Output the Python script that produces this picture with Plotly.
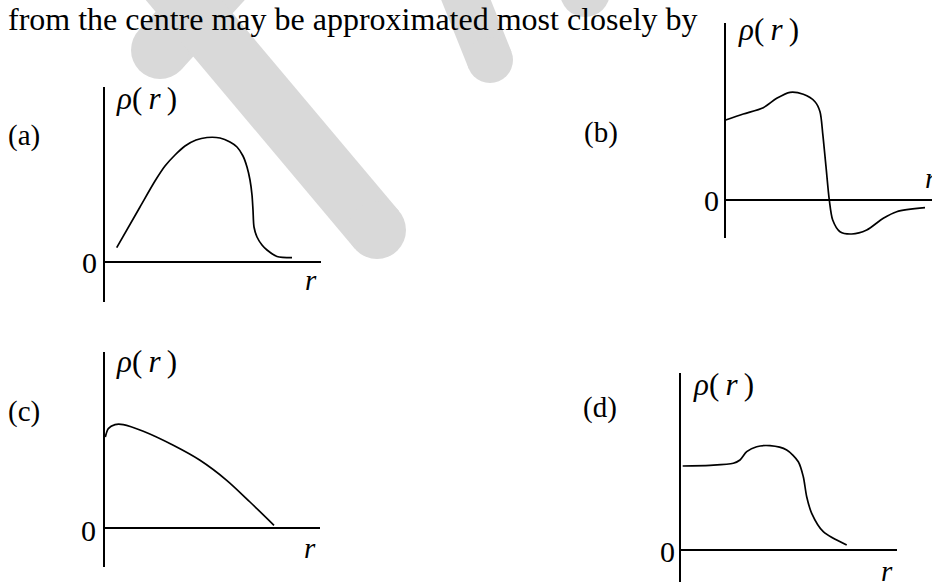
import plotly.graph_objects as go

W, H = 932, 582
FONT = "Liberation Serif, Times New Roman, serif"

# ---- density profiles rho(r), one sketch per option (arbitrary units) ----
a_r = [11.7, 35, 50, 60, 70, 80, 91, 102, 115, 125, 132, 138, 142, 145, 147, 148, 149, 152, 157, 162, 172, 187]
a_rho = [14.3, 55, 81, 96, 107, 116, 122, 124.5, 124, 120, 115, 106, 95, 82, 67, 52, 35, 25, 17, 12, 5.5, 4.3]

b_r = [0.2, 17.8, 37.8, 51.2, 64.5, 77.8, 89.5, 94.5, 97.2, 100.5, 103.8, 107.2, 114.5, 126.2, 141.2, 157.8, 171.2, 199.5]
b_rho = [80, 86, 92.3, 101.7, 107.7, 105.7, 98.3, 88.3, 66.7, 33.3, 0, -20, -31.7, -34, -30, -18.3, -11.7, -7.7]

c_r = [0.3, 3.3, 10, 18.3, 38.3, 68.3, 95, 121.7, 145, 169]
c_rho = [91, 99.4, 103.4, 103.4, 96.7, 82.7, 67.7, 47.7, 26, 2.7]

d_r = [1.7, 29, 52.3, 59, 65.7, 75.7, 89, 105.7, 117.3, 122.3, 125.7, 130.7, 142.3, 165.7]
d_rho = [84, 84.7, 86.7, 90, 98.3, 103.3, 104.3, 100, 88.3, 73.3, 53.3, 36.7, 18.3, 5]

option_labels = ["(a)", "(b)", "(c)", "(d)"]
question_text = "from the centre may be approximated most closely by"
rho_label = "<i>ρ</i>(\u2009<i>r</i>\u2009)"
r_label = "<i>r</i>"
zero_label = "0"

# ---- page layout (pixels) ----
# origin of each small plot, vertical-axis top/bottom, right end of horizontal axis
panels = [
    dict(ox=105, oy=262, top=87, bottom=302, right=321, r=a_r, rho=a_rho,
         tag=(24, 135), zero=(89, 262), rlab=(311, 280), rholab=(146, 98)),
    dict(ox=725.5, oy=200, top=23, bottom=238, right=932, r=b_r, rho=b_rho,
         tag=(601, 133), zero=(711, 200), rlab=(931, 178), rholab=(768, 29)),
    dict(ox=105, oy=528, top=352, bottom=567, right=320, r=c_r, rho=c_rho,
         tag=(24, 411), zero=(88, 530), rlab=(310, 548), rholab=(146, 361)),
    dict(ox=681, oy=550, top=373, bottom=582, right=897, r=d_r, rho=d_rho,
         tag=(600, 407), zero=(667, 551), rlab=(887, 571), rholab=(723, 384)),
]

# light grey brush strokes in the background: (x0, y0, x1, y1, width)
strokes = [
    (160, 50, 262, -62, 58),
    (150, -40, 377, 230, 58),
    (450, -40, 490, 60, 46),
    (585, -8, 560, -80, 50),
]
STROKE_COLOR = "#d9d9d9"


def fx(x):
    return x / W


def fy(y):
    return 1 - y / H


fig = go.Figure()

# background strokes on a full-page axis pair
for x0, y0, x1, y1, w in strokes:
    fig.add_trace(go.Scatter(
        x=[x0, x1], y=[y0, y1], mode="lines+markers",
        line=dict(color=STROKE_COLOR, width=w),
        marker=dict(color=STROKE_COLOR, size=w, line=dict(width=0)),
        xaxis="x", yaxis="y", hoverinfo="skip", showlegend=False,
    ))

layout = dict(
    width=W, height=H,
    margin=dict(l=0, r=0, t=0, b=0),
    paper_bgcolor="white", plot_bgcolor="rgba(0,0,0,0)",
    showlegend=False,
    xaxis=dict(domain=[0, 1], range=[0, W], visible=False, fixedrange=True),
    yaxis=dict(domain=[0, 1], range=[H, 0], visible=False, fixedrange=True),
)

annotations = [
    dict(text=question_text, x=fx(7), y=1, xanchor="left", yanchor="top",
         borderpad=0, font=dict(size=32)),
]

for i, p in enumerate(panels, start=2):
    xa, ya = f"xaxis{i}", f"yaxis{i}"
    layout[xa] = dict(
        domain=[fx(p["ox"]), min(1, fx(p["right"]))],
        range=[0, p["right"] - p["ox"]],
        showgrid=False, zeroline=False, showline=False, showticklabels=False,
        ticks="", anchor=f"y{i}", fixedrange=True,
    )
    layout[ya] = dict(
        domain=[max(0, fy(p["bottom"])), fy(p["top"])],
        range=[p["oy"] - p["bottom"], p["oy"] - p["top"]],
        showgrid=False, showticklabels=False, ticks="",
        zeroline=True, zerolinecolor="black", zerolinewidth=2,
        showline=True, linecolor="black", linewidth=2,
        anchor=f"x{i}", fixedrange=True,
    )
    fig.add_trace(go.Scatter(
        x=p["r"], y=p["rho"], mode="lines",
        line=dict(color="black", width=1.7, shape="spline", smoothing=0.8),
        xaxis=f"x{i}", yaxis=f"y{i}", cliponaxis=False, hoverinfo="skip",
    ))
    annotations += [
        dict(text=option_labels[i - 2], x=fx(p["tag"][0]), y=fy(p["tag"][1]),
             xanchor="center", yanchor="middle", font=dict(size=29)),
        dict(text=zero_label, x=fx(p["zero"][0]), y=fy(p["zero"][1]),
             xanchor="center", yanchor="middle", font=dict(size=30)),
        dict(text=r_label, x=fx(p["rlab"][0]), y=fy(p["rlab"][1]),
             xanchor="center", yanchor="middle", font=dict(size=29)),
        dict(text=rho_label, x=fx(p["rholab"][0]), y=fy(p["rholab"][1]),
             xanchor="center", yanchor="middle", font=dict(size=31)),
    ]

for a in annotations:
    a.update(xref="paper", yref="paper", showarrow=False)
    a["font"].update(family=FONT, color="black")

layout["annotations"] = annotations
fig.update_layout(**layout)
fig.write_html("out.html")
